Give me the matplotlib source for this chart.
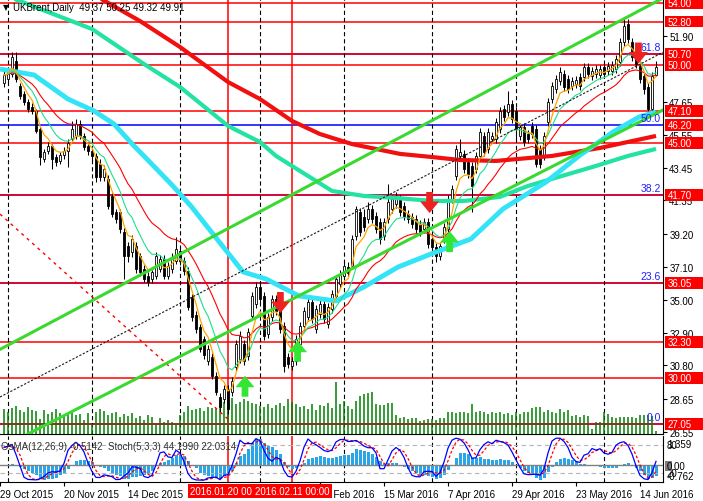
import numpy as np
import pandas as pd
import matplotlib
matplotlib.use("Agg")
import matplotlib.pyplot as plt
from matplotlib import transforms
from matplotlib.path import Path
from matplotlib.patches import Rectangle

plt.rcParams["font.family"] = ["Liberation Sans", "DejaVu Sans"]
plt.rcParams["font.size"] = 7

# UKBrent daily candles, one per trading day (30 Oct 2015 .. 20 Jun 2016)
opens = [
    48.86, 49.12, 49.44, 50.27, 48.67, 48.16, 47.65, 47.33, 47.07, 45.92,
    44.00, 44.51, 44.83, 44.13, 43.87, 44.26, 44.51, 45.28, 45.47, 46.24,
    45.47, 44.83, 44.51, 44.19, 43.68, 42.85, 42.72, 41.63, 40.61, 40.61,
    39.33, 38.43, 38.05, 38.43, 37.79, 36.96, 36.51, 36.32, 36.51, 36.96,
    37.60, 36.51, 36.96, 37.47, 38.11, 37.47, 36.83, 35.17, 34.02, 33.25,
    32.48, 31.07, 31.33, 30.11, 28.77, 28.64, 29.28, 29.09, 30.69, 31.20,
    32.16, 31.39, 33.95, 34.72, 35.81, 35.23, 32.80, 33.89, 35.04, 34.53,
    33.31, 31.33, 30.75, 31.07, 32.16, 33.31, 33.89, 34.85, 33.12, 34.08,
    34.72, 33.44, 34.40, 35.23, 36.00, 36.51, 37.09, 37.15, 39.07, 40.61,
    40.29, 40.16, 40.80, 40.35, 39.97, 39.07, 40.16, 40.80, 41.12, 41.44,
    40.99, 40.48, 40.29, 40.16, 39.84, 39.52, 39.97, 38.88, 38.37, 37.79,
    38.88, 39.52, 41.44, 42.91, 44.19, 44.32, 43.81, 43.55, 43.36, 44.19,
    45.47, 44.64, 45.28, 45.28, 45.92, 47.20, 47.01, 47.52, 47.07, 45.47,
    46.05, 45.60, 46.11, 45.92, 44.64, 44.19, 46.37, 47.84, 48.48, 48.99,
    49.44, 49.12, 48.67, 48.80, 49.25, 49.25, 49.89, 49.31, 49.44, 49.38,
    49.89, 49.63, 49.63, 49.76, 50.21, 51.49, 52.64, 51.49, 50.59, 49.95,
    49.31, 48.61, 47.20, 49.37]
highs = [
    49.63, 49.89, 50.85, 50.85, 48.86, 48.35, 47.84, 47.58, 47.20, 46.05,
    44.64, 45.09, 44.96, 44.32, 44.45, 44.77, 45.28, 46.43, 46.56, 46.50,
    45.66, 45.02, 44.70, 44.38, 44.00, 43.62, 42.98, 41.82, 40.80, 40.80,
    39.58, 38.69, 39.14, 38.69, 37.98, 37.22, 36.77, 37.09, 38.05, 37.86,
    37.86, 37.41, 37.98, 39.01, 38.37, 37.73, 37.09, 35.36, 34.27, 33.44,
    32.67, 32.10, 31.58, 30.37, 29.02, 29.54, 29.54, 30.05, 32.42, 32.99,
    32.42, 33.18, 35.49, 36.13, 36.06, 35.49, 34.14, 35.30, 35.30, 34.78,
    33.57, 31.58, 31.33, 32.74, 33.57, 34.53, 35.10, 35.10, 34.66, 34.98,
    34.98, 34.78, 35.62, 36.58, 36.90, 37.47, 37.41, 39.14, 40.99, 40.86,
    40.80, 41.25, 41.06, 40.61, 40.22, 40.22, 42.40, 41.70, 41.89, 41.70,
    41.25, 40.74, 40.54, 40.42, 40.10, 40.22, 40.22, 39.14, 38.62, 38.69,
    39.90, 41.70, 42.34, 44.90, 45.28, 44.58, 44.06, 43.81, 44.45, 45.98,
    45.73, 45.98, 45.73, 46.62, 47.33, 47.46, 48.35, 47.78, 47.33, 46.30,
    46.30, 45.86, 46.37, 46.18, 44.90, 45.73, 47.90, 48.93, 49.38, 49.89,
    49.70, 49.38, 49.25, 49.31, 49.50, 50.14, 50.14, 49.89, 50.02, 50.02,
    50.14, 50.21, 50.27, 50.66, 51.74, 52.96, 52.96, 51.74, 50.85, 50.21,
    49.57, 48.86, 49.57, 50.25]
lows = [
    48.61, 48.86, 49.25, 48.93, 47.84, 47.46, 47.01, 46.88, 45.66, 43.62,
    43.81, 44.32, 43.36, 43.55, 43.68, 44.00, 43.49, 45.09, 45.28, 45.28,
    44.58, 44.26, 43.87, 42.53, 42.59, 42.59, 40.80, 40.29, 39.90, 39.26,
    36.32, 37.41, 37.73, 36.70, 36.51, 36.13, 35.87, 36.06, 36.32, 36.77,
    36.32, 36.32, 36.70, 37.28, 37.22, 36.58, 34.34, 33.63, 32.86, 31.65,
    31.20, 30.82, 29.92, 28.90, 27.81, 28.38, 27.68, 28.83, 30.43, 30.94,
    30.82, 31.14, 33.70, 34.46, 34.78, 32.42, 32.54, 33.63, 34.02, 32.86,
    30.37, 30.62, 30.50, 30.82, 31.90, 33.06, 33.63, 33.50, 32.86, 33.82,
    33.50, 33.18, 34.14, 35.04, 35.74, 36.26, 36.45, 36.96, 38.82, 39.07,
    39.39, 39.90, 39.90, 39.26, 38.56, 38.82, 39.90, 40.54, 40.86, 40.35,
    40.10, 39.90, 39.58, 39.26, 39.07, 39.26, 38.30, 38.11, 37.41, 37.54,
    38.62, 39.26, 41.18, 42.66, 43.94, 43.10, 42.78, 40.61, 43.10, 43.94,
    44.19, 44.38, 45.02, 45.02, 45.66, 46.43, 46.75, 46.30, 45.28, 45.22,
    44.83, 45.02, 45.34, 43.49, 43.42, 43.94, 46.11, 47.58, 48.22, 48.74,
    48.35, 48.22, 48.42, 48.54, 48.42, 48.99, 49.18, 49.06, 49.18, 49.12,
    49.18, 49.38, 49.38, 49.50, 49.95, 51.23, 51.42, 50.27, 49.82, 48.86,
    48.16, 47.07, 47.07, 49.32]
closes = [
    49.38, 49.63, 50.53, 49.12, 48.03, 47.65, 47.20, 47.07, 45.79, 44.13,
    44.45, 44.83, 44.00, 43.81, 44.26, 44.51, 45.02, 45.92, 46.24, 45.47,
    44.77, 44.51, 44.19, 42.85, 42.85, 43.36, 40.99, 40.48, 40.16, 39.52,
    37.79, 37.79, 38.88, 36.96, 36.77, 36.32, 36.13, 36.77, 37.79, 37.60,
    36.51, 37.15, 37.73, 38.24, 37.47, 36.83, 34.53, 33.89, 33.12, 31.84,
    31.46, 31.84, 30.11, 29.09, 28.13, 29.28, 28.00, 29.79, 32.16, 32.67,
    31.07, 32.93, 35.23, 35.81, 35.04, 32.67, 33.89, 35.04, 34.27, 33.12,
    30.75, 30.88, 31.07, 32.48, 33.31, 34.27, 34.85, 33.76, 34.40, 34.72,
    33.76, 34.53, 35.36, 36.32, 36.64, 37.15, 36.70, 38.88, 40.80, 39.33,
    39.65, 40.80, 40.16, 39.52, 38.88, 39.97, 41.25, 41.44, 41.63, 40.61,
    40.35, 40.16, 39.84, 39.52, 39.33, 39.97, 38.56, 38.37, 37.79, 38.43,
    39.65, 41.44, 42.08, 44.64, 44.45, 43.36, 43.04, 42.27, 44.19, 45.73,
    44.45, 45.73, 45.47, 46.37, 47.07, 46.69, 47.52, 46.56, 45.92, 46.05,
    45.09, 45.28, 45.60, 43.68, 43.68, 45.47, 47.65, 48.67, 49.12, 49.57,
    48.61, 48.48, 48.99, 49.06, 48.67, 49.89, 49.44, 49.63, 49.76, 49.76,
    49.44, 49.95, 50.02, 50.40, 51.49, 52.51, 51.68, 50.53, 50.08, 49.12,
    48.48, 47.20, 49.31, 49.91]
volume = [
    25, 22, 26, 28, 24, 22, 27, 24, 23, 15,
    24, 20, 22, 25, 21, 18, 20, 22, 19, 20, 14, 21,
    10, 22, 25, 23, 19, 21, 22, 17, 20,
    18, 21, 16, 18, 14, 19, 17, 10, 16, 12, 14, 12, 11, 19,
    22, 28, 24, 25, 26, 23, 27, 26, 25, 29, 32,
    34, 36, 30, 32, 35, 33, 31, 30, 28,
    27, 30, 26, 29, 31, 28, 35, 32,
    30, 27, 28, 25, 30, 24, 29, 28, 31, 26, 52, 30, 33, 28,
    25, 33, 38, 40, 41, 42, 30, 29, 29, 31,
    31, 19, 16, 17, 15, 16, 16, 13, 14, 15,
    15, 14, 16, 16, 22, 22, 21, 22, 22, 21,
    30, 22, 23, 22, 20, 22, 21, 22, 20, 21,
    19, 22, 20, 22, 22, 26, 27, 27, 22, 24,
    22, 21, 25, 22, 24, 18, 19, 17, 19, 18,
    5, 12, 12, 22, 20, 17, 16, 17, 17, 17,
    17, 16, 19, 19, 19, 18, 3]

# slow moving averages at a few bars
ma_red_bar = [23, 34, 44, 56, 64, 72, 79, 87, 99, 107, 114, 123, 137, 149, 163]
ma_red = [54.43, 52.83, 51.17, 48.93, 47.84, 46.44, 45.60, 44.96, 44.33, 44.13,
          43.94, 43.88, 44.20, 44.71, 45.48]
ma_aqua_bar = [0, 22, 35, 44, 56, 64, 68, 74, 82, 90, 98, 107, 115, 124, 131, 148, 156, 163]
ma_aqua = [54.50, 52.32, 50.08, 48.61, 46.12, 45.09, 44.20, 43.24, 41.96, 41.64,
           41.51, 41.32, 41.32, 41.58, 42.28, 43.56, 44.20, 44.65]
ma_cyan_bar = [-1, 7.5, 16, 22.5, 27.5, 32.5, 35, 41.75, 46.75, 51.25, 59.75, 65.5,
               73.75, 83, 90, 98.5, 106.75, 116.75, 124.75, 135.5, 143.75, 152.25,
               158.75, 163]
ma_cyan = [49.76, 49.38, 47.84, 47.08, 46.24, 44.84, 44.19, 42.41, 40.99, 39.53,
           36.78, 36.33, 35.24, 34.92, 35.82, 37.09, 37.93, 38.89, 40.81, 42.53,
           44.20, 45.73, 46.69, 47.01]

# levels
red_levels = [54.00, 52.80, 50.70, 50.00, 47.10, 45.00, 41.70, 36.05, 32.30, 30.00, 27.05]
label_levels = [54.00, 52.80, 50.70, 50.00, 47.10, 46.20, 45.00, 41.70, 36.05, 32.30, 30.00, 27.05]
fib_levels = [27.05, 36.09, 41.68, 46.20, 50.72]
fib_names = ["0.0", "23.6", "38.2", "50.0", "61.8"]
price_ticks = [51.90, 47.65, 45.55, 43.45, 41.35, 39.20, 37.10, 35.00, 32.90, 30.80, 28.65, 26.55]

# trend lines as two (bar, price) anchors
channel_top = [(0, 31.96), (163, 54.06)]
channel_bottom = [(0, 25.63), (163, 46.91)]
channel_mid = [(0, 28.91), (163, 50.60)]
fall_line = [(-1, 40.48), (56, 27.36)]

# signal arrows
sell_bar = [69.1, 106.4, 158.6]
sell_price = [34.82, 41.22, 50.78]
buy_bar = [60.25, 73.4, 111.4]
buy_price = [29.47, 31.71, 38.72]

month_start = [1, 22, 44, 64, 85, 107, 128, 150]
marked_bar = [56, 72]
marked_text = ["2016.01.20 00:00", "2016.02.11 00:00"]
date_bar = [-1, 15, 31, 79, 95, 111, 127, 143, 159]
date_text = ["29 Oct 2015", "20 Nov 2015", "14 Dec 2015", "22 Feb 2016", "15 Mar 2016",
             "7 Apr 2016", "29 Apr 2016", "23 May 2016", "14 Jun 2016"]

W, H = 703, 502


def rect(x0, y0, x1, y1):
    return [x0 / W, 1 - y1 / H, (x1 - x0) / W, (y1 - y0) / H]


o = np.array(opens)
h = np.array(highs)
l = np.array(lows)
c = np.array(closes)
x = np.arange(len(c))
cs = pd.Series(c)

# fast averages and oscillators from the candles
ma_fast = cs.ewm(span=5, adjust=False).mean()
ma_mid = cs.ewm(span=10, adjust=False).mean()
ma_slow = cs.ewm(span=20, adjust=False).mean()
macd = cs.ewm(span=12, adjust=False).mean() - cs.ewm(span=26, adjust=False).mean()
osma = macd - macd.rolling(9, min_periods=1).mean()
hh = pd.Series(h).rolling(5, min_periods=1).max()
ll = pd.Series(l).rolling(5, min_periods=1).min()
stoch_k = 100 * (cs - ll).rolling(3, min_periods=1).sum() / (hh - ll).rolling(3, min_periods=1).sum()
stoch_d = stoch_k.rolling(3, min_periods=1).mean()

fig = plt.figure(figsize=(W / 100, H / 100), dpi=100)
ax = fig.add_axes(rect(0, 0, 663, 435))
axi = fig.add_axes(rect(0, 437, 663, 483))
XMIN, XMAX = -1, 164.75
PTOP, PBOT = 54.24, 26.41

# levels and grid
for p in fib_levels:
    ax.axhline(p, color="#0000FF", lw=1.1, zorder=1.1)
for p in red_levels:
    ax.axhline(p, color="#FF0000", lw=1.1, zorder=1.2)
for a in (ax, axi):
    for b in month_start:
        a.axvline(b, color="black", lw=0.8, ls=(0, (3.8, 2.6)), zorder=1.3)
    for b in marked_bar:
        a.axvline(b, color="#FF0000", lw=1.1, zorder=1.4)

# volumes at the bottom of the price pane
vol_tr = transforms.blended_transform_factory(ax.transData, ax.transAxes)
ax.vlines(x, 0, np.array(volume) / 435.0, transform=vol_tr, color="#008000", lw=1.1, zorder=1.5)

# candles
up = c >= o
ax.vlines(x, l, h, color="black", lw=0.75, zorder=4)
ax.bar(x[up], (c - o)[up], bottom=o[up], width=0.68, color="white", edgecolor="black", lw=0.6, zorder=5)
ax.bar(x[~up], (o - c)[~up], bottom=c[~up], width=0.68, color="black", edgecolor="black", lw=0.6, zorder=5)

# moving averages
ax.plot(ma_red_bar, ma_red, color="#F01010", lw=3, solid_capstyle="butt", zorder=6)
ax.plot(ma_aqua_bar, ma_aqua, color="#22E3A2", lw=3, solid_capstyle="butt", zorder=6)
ax.plot(ma_cyan_bar, ma_cyan, color="#33E4F6", lw=3.5, solid_capstyle="butt", zorder=6)
ax.plot(x, ma_slow, color="#FF0000", lw=0.8, zorder=6.2)
ax.plot(x, ma_mid, color="#20DD8C", lw=0.8, zorder=6.2)
ax.plot(x, ma_fast, color="#FFA500", lw=0.9, zorder=6.3)

# channel and trend lines
ax.axline(channel_top[0], channel_top[1], color="#3AD92F", lw=2.2, zorder=6.5)
ax.axline(channel_bottom[0], channel_bottom[1], color="#3AD92F", lw=2.2, zorder=6.5)
ax.axline(channel_mid[0], channel_mid[1], color="#1A1A1A", lw=0.8, ls=(0, (2, 1.5)), zorder=6.5)
ax.plot(*zip(*fall_line), color="#FF0000", lw=1, ls=(0, (2.2, 3)), zorder=6.4)

# arrows
down = Path([(-0.32, 1), (0.32, 1), (0.32, 0.1), (0.9, 0.1), (0, -1), (-0.9, 0.1),
             (-0.32, 0.1), (-0.32, 1)])
up_arrow = Path([(vx, -vy) for vx, vy in down.vertices])
ax.scatter(sell_bar, sell_price, marker=down, s=230, color="#EE2020", edgecolors="none", zorder=9)
ax.scatter(buy_bar, buy_price, marker=up_arrow, s=230, color="#33E633", edgecolors="none", zorder=9)

# fibonacci labels
for p, name in zip(fib_levels, fib_names):
    ax.text(164.25, p + 0.12, name, color="#2020FF", fontsize=7.5, ha="right", va="bottom", zorder=7)

ax.set_xlim(XMIN, XMAX)
ax.set_ylim(PBOT, PTOP)
ax.set_yticks(price_ticks)
ax.set_yticklabels([f"{t:.2f}" for t in price_ticks])
ax.tick_params(axis="y", left=False, labelleft=False, right=True, labelright=True,
               length=3, width=0.8, pad=1.5, labelsize=7)
ax.tick_params(axis="x", bottom=False, labelbottom=False)
for s in ("top", "left"):
    ax.spines[s].set_visible(False)

# red price boxes on the axis
lab_tr = transforms.blended_transform_factory(fig.transFigure, ax.transData)
for p in label_levels:
    ax.add_patch(Rectangle((665 / W, p - 0.38), 38 / W, 0.76, transform=lab_tr,
                           facecolor="#FF0000", edgecolor="none", clip_on=False, zorder=10))
    ax.text(668 / W, p, f"{p:.2f}", transform=lab_tr, color="white", fontsize=7,
            ha="left", va="center", zorder=11, clip_on=False)

ax.text(3 / 663, 1 - 8 / 435, "▼", transform=ax.transAxes, fontsize=5.5, va="center",
        family=["DejaVu Sans"], zorder=12)
ax.text(13 / 663, 1 - 8 / 435, "UKBrent,Daily  49.37 50.25 49.32 49.91", transform=ax.transAxes,
        fontsize=7, va="center", zorder=12)

# indicator pane: OsMA histogram + stochastic
axi.bar(x, osma, width=0.75, color="#2AA6E6", zorder=2)
axi.axhline(0, color="#808080", lw=1, zorder=2.5)
axi.set_xlim(XMIN, XMAX)
axi.set_ylim(-0.762, 1.359)
axi.set_yticks([])
axi.set_xticks(date_bar)
axi.set_xticklabels(date_text)
for t in axi.get_xticklabels():
    t.set_ha("left")
axi.tick_params(axis="x", length=3, width=0.8, pad=2, labelsize=7)
axi.spines["left"].set_visible(False)
axi.spines["top"].set_visible(False)

axs = axi.twinx()
axs.set_ylim(0, 100)
axs.set_yticks([])
for s in axs.spines.values():
    s.set_visible(False)
axs.axhline(80, color="#B4B4B4", lw=0.8, ls=(0, (4, 3)))
axs.axhline(20, color="#B4B4B4", lw=0.8, ls=(0, (4, 3)))
axs.plot(x, stoch_d, color="#FF0000", lw=0.9, ls=(0, (2.2, 1.6)))
axs.plot(x, stoch_k, color="#0000FF", lw=0.9)
axs.text(1 / 663, 0.79, "OsMA(12,26,9) -0.5142  Stoch(5,3,3) 44.1990 22.0314",
         transform=axs.transAxes, fontsize=7, color="#303030", va="center")

stoch_tr = transforms.blended_transform_factory(fig.transFigure, axs.transData)
fig.text(667 / W, 1 - 445 / H, "1.359", fontsize=7, va="center")
axs.text(667 / W, 80, "80", transform=stoch_tr, fontsize=7, va="center", clip_on=False)
axs.text(667 / W, 20, "20", transform=stoch_tr, fontsize=7, va="center", clip_on=False)
fig.text(667 / W, 1 - 477 / H, "-0.762", fontsize=7, va="center")
fig.add_artist(Rectangle((665 / W, 1 - 472 / H), 7 / W, 10 / H, transform=fig.transFigure,
                         facecolor="#7F7F7F", edgecolor="none"))
fig.text(667 / W, 1 - 467 / H, "0.00", fontsize=7, va="center")

# highlighted dates under the marked bars
date_tr = transforms.blended_transform_factory(axi.transData, fig.transFigure)
for i, (b, txt) in enumerate(zip(marked_bar, marked_text)):
    axi.text(b, 1 - 492 / H, txt, transform=date_tr, color="white", fontsize=7,
             ha="center", va="center", clip_on=False, zorder=20 + i,
             bbox=dict(boxstyle="square,pad=0.25", facecolor="#FF0000", edgecolor="none"))

fig.savefig("out.png", dpi=100, facecolor="white")
